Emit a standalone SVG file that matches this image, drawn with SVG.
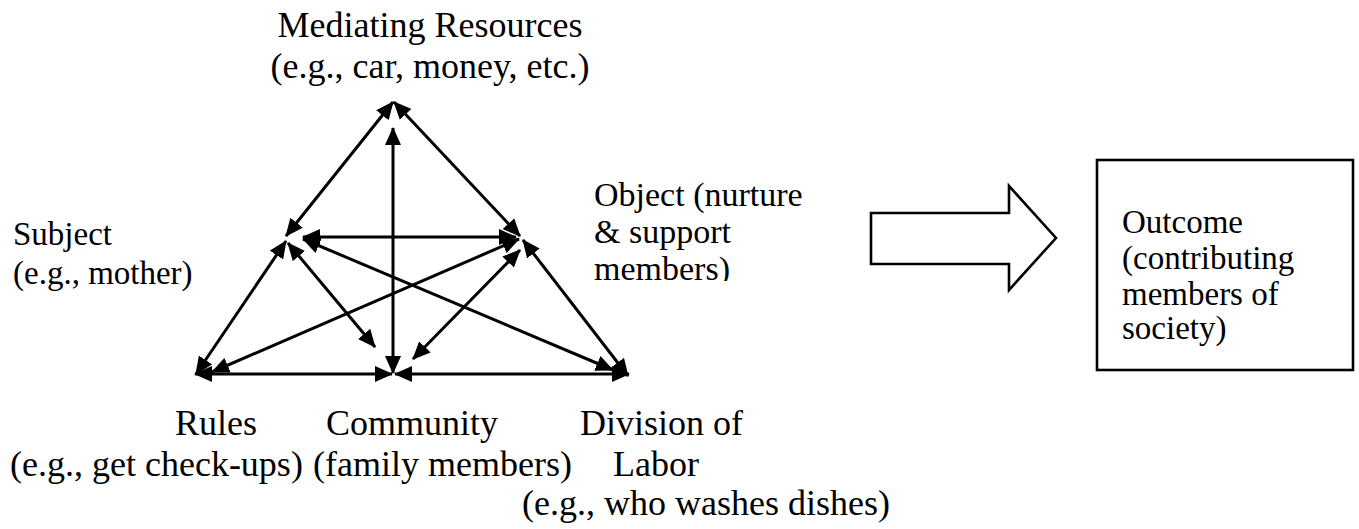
<svg xmlns="http://www.w3.org/2000/svg" width="1359" height="529" viewBox="0 0 1359 529">
<style>
  text { font-family: "Liberation Serif", "Tinos", "DejaVu Serif", "Noto Serif", serif; fill: #000; }
  .t36 { font-size: 36px; }
  .t34 { font-size: 34px; }
  .t33 { font-size: 33px; }
  .link { stroke: #000; stroke-width: 3; fill: none; marker-start: url(#ah); marker-end: url(#ah); }
  .shape { stroke: #000; stroke-width: 2.6; fill: #fff; }
</style>
<defs>
  <marker id="ah" markerUnits="userSpaceOnUse" viewBox="0 0 18 16" markerWidth="18" markerHeight="16" refX="17" refY="8" orient="auto-start-reverse">
    <path d="M0,0 L18,8 L0,16 z" fill="#000"/>
  </marker>
  <clipPath id="objclip"><rect x="580" y="170" width="260" height="111"/></clipPath>
</defs>
<rect width="1359" height="529" fill="#fff"/>

<g id="connectors">
  <line class="link" x1="286" y1="236" x2="393" y2="102"/>
  <line class="link" x1="520" y1="236" x2="394" y2="102"/>
  <line class="link" x1="393" y1="373" x2="393" y2="128"/>
  <line class="link" x1="303" y1="237" x2="516" y2="237"/>
  <line class="link" x1="196" y1="374" x2="286" y2="241"/>
  <line class="link" x1="288" y1="243" x2="375" y2="347"/>
  <line class="link" x1="303" y1="239" x2="613" y2="370"/>
  <line class="link" x1="519" y1="239" x2="212" y2="372"/>
  <line class="link" x1="520" y1="250" x2="413" y2="359"/>
  <line class="link" x1="523" y1="240" x2="628" y2="376"/>
  <line class="link" x1="195" y1="374" x2="392" y2="374"/>
  <line class="link" x1="395" y1="374" x2="629" y2="374"/>
</g>

<g id="node-mediating">
  <text class="t36" x="430" y="37" text-anchor="middle">Mediating Resources</text>
  <text class="t36" x="430" y="78" text-anchor="middle">(e.g., car, money, etc.)</text>
</g>
<g id="node-subject">
  <text class="t33" x="13" y="245">Subject</text>
  <text class="t33" x="13" y="284">(e.g., mother)</text>
</g>
<g id="node-object" clip-path="url(#objclip)">
  <text class="t34" x="594" y="206">Object (nurture</text>
  <text class="t34" x="594" y="243">&amp; support</text>
  <text class="t34" x="594" y="280">members)</text>
</g>
<g id="node-rules">
  <text class="t36" x="175" y="435">Rules</text>
  <text class="t36" x="10" y="476">(e.g., get check-ups)</text>
</g>
<g id="node-community">
  <text class="t36" x="326" y="435">Community</text>
  <text class="t36" x="313" y="476">(family members)</text>
</g>
<g id="node-division">
  <text class="t36" x="580" y="435">Division of</text>
  <text class="t36" x="613" y="476">Labor</text>
  <text class="t36" x="522" y="515">(e.g., who washes dishes)</text>
</g>

<g id="node-arrow">
  <path class="shape" d="M871,213 L1009,213 L1009,186 L1056,238 L1009,290 L1009,264 L871,264 Z"/>
</g>
<g id="node-outcome">
  <rect class="shape" x="1097" y="160" width="256" height="210"/>
  <text class="t33" x="1122" y="233">Outcome</text>
  <text class="t33" x="1122" y="269">(contributing</text>
  <text class="t33" x="1122" y="305">members of</text>
  <text class="t33" x="1122" y="339">society)</text>
</g>
</svg>
